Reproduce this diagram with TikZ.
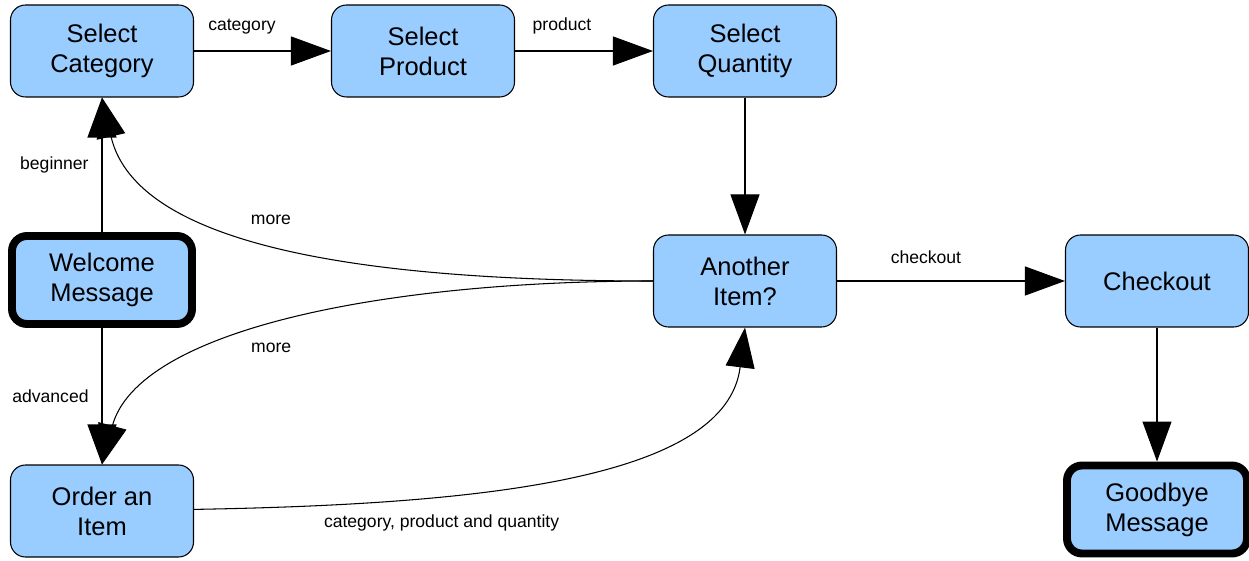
\documentclass[tikz,border=0pt]{standalone}
\usepackage{fontspec}
\setmainfont{Liberation Sans}
\usetikzlibrary{arrows.meta}
\definecolor{boxblue}{HTML}{99CCFF}
\tikzset{
	state/.style={shape=rectangle,rounded corners=0.3cm,draw=black,line width=0.6pt,fill=boxblue,
		minimum width=3.66cm,minimum height=1.84cm,align=center,font=\fontsize{14.5}{17}\selectfont},
	endstate/.style={state,line width=4.5pt,minimum width=3.6cm,minimum height=1.76cm},
	flow/.style={-{Triangle[length=0.8cm,width=0.58cm]},line width=0.6pt},
	lbl/.style={font=\fontsize{10}{12}\selectfont}
}
\begin{document}
\begin{tikzpicture}
	\useasboundingbox (0,0) rectangle (24.98,11.2);
	
	\node[state] (selcat) at (2.04, 10.18)     {Select\\Category};
	\node[state] (selprod) at (8.46, 10.18)     {Select\\Product};
	\node[state] (selqty) at (14.90, 10.18)     {Select\\Quantity};
	\node[endstate] (welcome) at (2.04, 5.6)     {Welcome\\Message};
	\node[state] (another) at (14.90, 5.58)     {Another\\Item?};
	\node[state] (checkout) at (23.14, 5.58)     {Checkout};
	\node[state] (order) at (2.04, 0.98)     {Order an\\Item};
	\node[endstate] (goodbye) at (23.14, 1.01)     {Goodbye\\Message};
	
	\path[flow] (selcat) edge node[lbl,above=6pt,pos=0.35] {category} (selprod);
	\path[flow] (selprod) edge node[lbl,above=6pt,pos=0.34] {product} (selqty);
	\path[flow] (selqty) edge (another);
	\path[flow] (welcome) edge node[lbl,left=4pt,pos=0.5] {beginner} (selcat);
	\path[flow] (welcome) edge node[lbl,left=4pt,pos=0.5] {advanced} (order);
	\path[flow] (another) edge node[lbl,above=6pt,pos=0.39] {checkout} (checkout);
	\path[flow] (checkout) edge (goodbye);
	\path[flow] (another) edge[out=180,in=-77,out looseness=1.2,in looseness=0.69]
		node[lbl,above=6pt,pos=0.53] {more} (selcat.south);
	\path[flow] (another) edge[out=180,in=75,out looseness=1.2,in looseness=0.61]
		node[lbl,below=5pt,pos=0.53] {more} (order.north);
	\path[flow] (order) edge[out=1,in=-97,out looseness=1.25,in looseness=0.68]
		node[lbl,below=7pt,pos=0.31] {category, product and quantity} (another.south);
	
\end{tikzpicture}
\end{document}
